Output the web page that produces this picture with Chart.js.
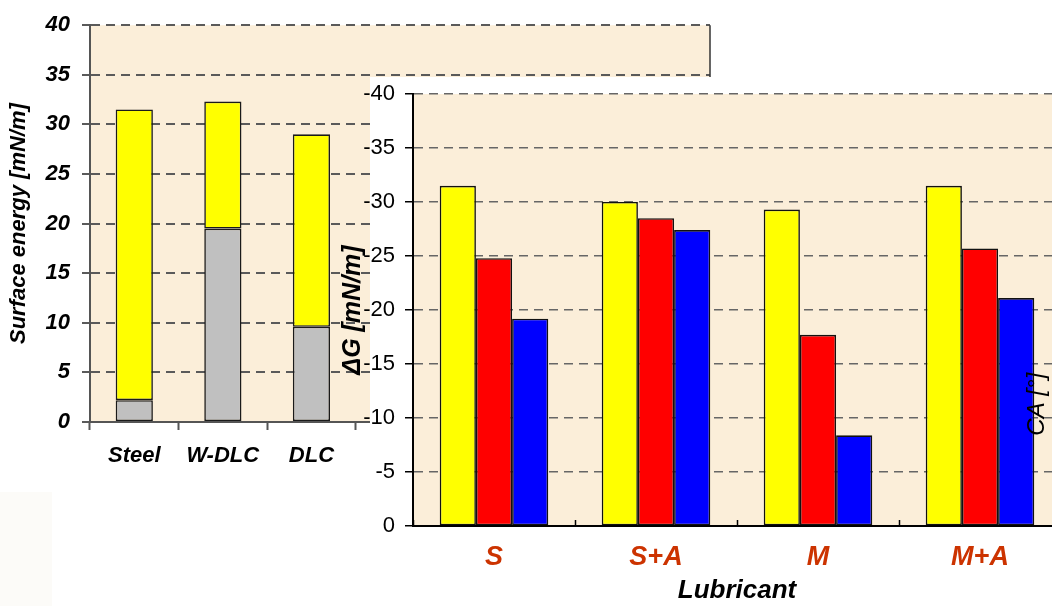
<!DOCTYPE html>
<html>
<head>
<meta charset="utf-8">
<script src="https://cdn.jsdelivr.net/npm/chart.js@4.4.1/dist/chart.umd.min.js"></script>
<style>
  html, body { margin: 0; padding: 0; width: 1052px; height: 606px; overflow: hidden; background: #ffffff; }
  #shade { position: absolute; left: 0; top: 492px; width: 52px; height: 114px; background: #fcfbf8; }
  #surface { position: absolute; left: 0; top: 0; }
  #panel { position: absolute; left: 370px; top: 77px; width: 682px; height: 529px; background: #ffffff; }
  #wetting { position: absolute; left: 330px; top: 70px; }
</style>
</head>
<body>
<div id="shade"></div>
<canvas id="surface" width="720" height="480" style="width:720px;height:480px"></canvas>
<div id="panel"></div>
<canvas id="wetting" width="741" height="536" style="width:741px;height:536px"></canvas>
<script>
// Surface energy of the three substrates (dispersive + polar part, mN/m)
const substrates = ['Steel', 'W-DLC', 'DLC', '', '', '', ''];
const dispersivePart = [2.2, 19.5, 9.6];
const polarPart = [29.3, 12.8, 19.4];
const surfaceTicks = [0, 5, 10, 15, 20, 25, 30, 35, 40];

// Work of adhesion ΔG per lubricant on each substrate (mN/m)
const lubricants = ['S', 'S+A', 'M', 'M+A'];
const dGSteel = [-31.5, -30.0, -29.3, -31.5];
const dGWDLC = [-24.8, -28.5, -17.7, -25.7];
const dGDLC = [-19.2, -27.4, -8.4, -21.1];
const dGTicks = [-40, -35, -30, -25, -20, -15, -10, -5, 0];

const FAMILY = '"Liberation Sans", Arial, Helvetica, sans-serif';
const PARCHMENT = '#fbeed9';

// Fills the plot area with the parchment tone before anything else is drawn
const plotFill = {
  id: 'plotFill',
  beforeDraw(chart, args, opts) {
    const a = chart.chartArea, ctx = chart.ctx;
    ctx.save();
    ctx.fillStyle = opts.color || PARCHMENT;
    ctx.fillRect(a.left, a.top, a.right - a.left, a.bottom - a.top);
    ctx.restore();
  },
  afterDraw(chart, args, opts) {
    if (!opts.rightBorder) return;
    const a = chart.chartArea, ctx = chart.ctx;
    ctx.save();
    ctx.strokeStyle = opts.rightBorder;
    ctx.lineWidth = 1.5;
    ctx.beginPath();
    ctx.moveTo(a.right, a.top);
    ctx.lineTo(a.right, a.bottom);
    ctx.stroke();
    ctx.restore();
  }
};

// Secondary axis caption written inside the right part of the plot
const sideCaption = {
  id: 'sideCaption',
  afterDraw(chart, args, opts) {
    if (!opts.text) return;
    const a = chart.chartArea, ctx = chart.ctx;
    ctx.save();
    ctx.translate(a.right - opts.inset, a.top + (a.bottom - a.top) * opts.at);
    ctx.rotate(-Math.PI / 2);
    ctx.font = opts.font;
    ctx.fillStyle = '#000';
    ctx.textAlign = 'center';
    ctx.textBaseline = 'middle';
    ctx.fillText(opts.text, 0, 0);
    ctx.restore();
  }
};

new Chart(document.getElementById('surface'), {
  type: 'bar',
  data: {
    labels: substrates,
    datasets: [
      { label: 'dispersive', data: dispersivePart, backgroundColor: '#c0c0c0' },
      { label: 'polar', data: polarPart, backgroundColor: '#ffff00' }
    ]
  },
  options: {
    responsive: false,
    animation: false,
    events: [],
    layout: { padding: { top: 14, right: 10, left: 0, bottom: 0 } },
    datasets: {
      bar: { borderColor: '#1a1a1a', borderWidth: 1.6, borderSkipped: false, categoryPercentage: 1, barPercentage: 0.42 }
    },
    plugins: {
      legend: { display: false },
      tooltip: { enabled: false },
      plotFill: { color: PARCHMENT, rightBorder: '#333333' },
      sideCaption: {}
    },
    scales: {
      x: {
        stacked: true,
        afterFit(s) { s.height = 58; },
        grid: { offset: true, drawOnChartArea: false, drawTicks: true, tickLength: 8, tickColor: '#555555', tickWidth: 2 },
        border: { color: '#555555', width: 2 },
        ticks: { autoSkip: false, maxRotation: 0, padding: 13, color: '#000',
                 font: { family: FAMILY, size: 22, weight: 'bold', style: 'italic' } }
      },
      y: {
        stacked: true,
        min: 0, max: 40,
        afterFit(s) { s.width = 90; },
        afterBuildTicks(s) { s.ticks = surfaceTicks.map(v => ({ value: v })); },
        grid: { color: '#5a5a5a', lineWidth: 2, tickLength: 8, tickColor: '#5a5a5a', tickWidth: 2 },
        border: { color: '#555555', width: 2, dash: [9, 6] },
        ticks: { padding: 12, color: '#000',
                 font: { family: FAMILY, size: 22, weight: 'bold', style: 'italic' } },
        title: { display: true, text: 'Surface energy [mN/m]', color: '#000', padding: { top: 6, bottom: 0 },
                 font: { family: FAMILY, size: 22, weight: 'bold', style: 'italic' } }
      }
    }
  },
  plugins: [plotFill, sideCaption]
});

new Chart(document.getElementById('wetting'), {
  type: 'bar',
  data: {
    labels: lubricants,
    datasets: [
      { label: 'Steel', data: dGSteel, backgroundColor: '#ffff00' },
      { label: 'W-DLC', data: dGWDLC, backgroundColor: '#ff0000' },
      { label: 'DLC', data: dGDLC, backgroundColor: '#0000ff' }
    ]
  },
  options: {
    responsive: false,
    animation: false,
    events: [],
    layout: { padding: { top: 24, right: 10, left: 0, bottom: 0 } },
    datasets: {
      bar: { borderColor: '#111111', borderWidth: 1.6, borderSkipped: false, categoryPercentage: 0.67, barPercentage: 1 }
    },
    plugins: {
      legend: { display: false },
      tooltip: { enabled: false },
      plotFill: { color: PARCHMENT },
      sideCaption: { text: 'CA [°]', inset: 24, at: 0.718, font: 'italic 24px ' + FAMILY }
    },
    scales: {
      x: {
        afterFit(s) { s.height = 80; },
        grid: { offset: true, drawOnChartArea: false, drawTicks: true, tickLength: -6, tickColor: '#000', tickWidth: 1.5 },
        border: { color: '#000', width: 2 },
        ticks: { autoSkip: false, maxRotation: 0, padding: 21, color: '#cc3300',
                 font: { family: FAMILY, size: 27, weight: 'bold', style: 'italic' } },
        title: { display: true, text: 'Lubricant', color: '#000', padding: { top: 0, bottom: 0 },
                 font: { family: FAMILY, size: 26, weight: 'bold', style: 'italic' } }
      },
      y: {
        min: -40, max: 0,
        reverse: true,
        afterFit(s) { s.width = 83; },
        afterBuildTicks(s) { s.ticks = dGTicks.map(v => ({ value: v })); },
        grid: { color: '#666666', lineWidth: 1.5, tickLength: 8, tickColor: '#000', tickWidth: 1.5 },
        border: { color: '#000', width: 2, dash: [9, 6] },
        ticks: { padding: 10, color: '#000',
                 font: { family: FAMILY, size: 22, weight: 'normal' } },
        title: { display: true, text: 'ΔG [mN/m]', color: '#000', padding: { top: 8, bottom: 0 },
                 font: { family: FAMILY, size: 25, weight: 'bold', style: 'italic' } }
      }
    }
  },
  plugins: [plotFill, sideCaption]
});
</script>
</body>
</html>
